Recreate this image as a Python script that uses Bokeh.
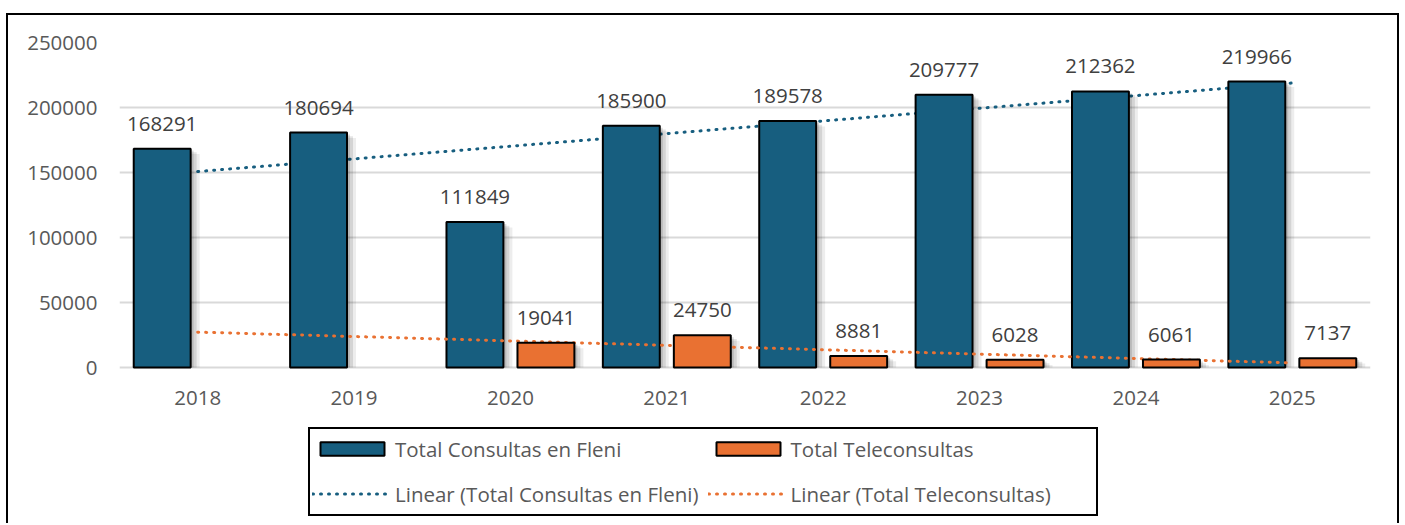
import numpy as np
from bokeh.plotting import figure
from bokeh.models import (ColumnDataSource, FactorRange, Range1d, FixedTicker,
                          BasicTickFormatter, Legend, LegendItem, LabelSet)
from bokeh.transform import dodge
from bokeh.core.properties import value
from bokeh.embed import file_html
from bokeh.resources import INLINE

# ---------------- data ----------------
years = ["2018", "2019", "2020", "2021", "2022", "2023", "2024", "2025"]
consultas_fleni = [168291, 180694, 111849, 185900, 189578, 209777, 212362, 219966]
teleconsultas = [None, None, 19041, 24750, 8881, 6028, 6061, 7137]
y_ticks = [0, 50000, 100000, 150000, 200000, 250000]
series_names = ["Total Consultas en Fleni", "Total Teleconsultas"]
trend_names = ["Linear (Total Consultas en Fleni)", "Linear (Total Teleconsultas)"]

# ---------------- styles ----------------
BLUE = "#175E7F"
ORANGE = "#E97132"
GRID = "#D9D9D9"
AXIS_TXT = "#595959"
LABEL_TXT = "#404040"
FONT = "Open Sans"
FS = "20.5px"
OFF = 0.227      # half distance between bar centres (category units)
BW = 0.364       # bar width (category units)
CAT_PX = 156.4   # pixels per category
Y_MAX = 250000
# pixel geometry: frame top, zero line, frame bottom (legend lives below zero line)
PX_TOP, PX_ZERO, PX_BOTTOM = 42, 367, 525
Y_MIN = -Y_MAX * (PX_BOTTOM - PX_ZERO) / (PX_ZERO - PX_TOP)
UNITS_PER_PX = Y_MAX / (PX_ZERO - PX_TOP)

# ---------------- derived ----------------
xpos = np.arange(1, len(years) + 1)
fleni = np.array(consultas_fleni, dtype=float)
tele = np.array([np.nan if v is None else v for v in teleconsultas], dtype=float)

k1, b1 = np.polyfit(xpos, fleni, 1)
mask = ~np.isnan(tele)
k2, b2 = np.polyfit(xpos[mask], tele[mask], 1)
trend_fleni = k1 * xpos + b1
trend_tele = k2 * xpos + b2

src = ColumnDataSource(dict(
    year=years, fleni=fleni, tele=tele,
    fleni_txt=[str(v) for v in consultas_fleni],
    trend_fleni=trend_fleni, trend_tele=trend_tele,
))
tele_years = [y for y, v in zip(years, teleconsultas) if v is not None]
tele_vals = [v for v in teleconsultas if v is not None]
src_tele = ColumnDataSource(dict(year=tele_years, tele=tele_vals,
                                 txt=[str(v) for v in tele_vals]))

p = figure(
    x_range=FactorRange(*years), y_range=Range1d(Y_MIN, Y_MAX),
    width=1393, height=510, output_backend="svg", toolbar_location=None,
    min_border_left=111, min_border_right=31, min_border_top=27, min_border_bottom=0,
)
p.styles = {"border-top": "2px solid #000", "border-left": "2px solid #000",
            "border-right": "2px solid #000", "margin-left": "6px", "margin-top": "13px"}
p.outline_line_color = None
p.background_fill_color = "white"

# grid / axes
p.xgrid.grid_line_color = None
p.ygrid.grid_line_color = GRID
p.ygrid.grid_line_width = 2
p.yaxis.ticker = FixedTicker(ticks=y_ticks)
p.yaxis.formatter = BasicTickFormatter(use_scientific=False)
p.yaxis.axis_line_color = None
p.yaxis.major_tick_line_color = None
p.yaxis.minor_tick_line_color = None
p.yaxis.major_label_standoff = 16
p.yaxis.major_label_text_font = FONT
p.yaxis.major_label_text_font_size = FS
p.yaxis.major_label_text_color = AXIS_TXT
p.xaxis.visible = False

# category labels under the zero line
year_labels = LabelSet(x="year", y=0, text="year", source=src,
                       text_align="center", text_baseline="alphabetic", y_offset=-37,
                       text_font=value(FONT), text_font_size=value(FS),
                       text_color=AXIS_TXT)
p.add_layout(year_labels)

# trend line (Fleni) behind bars
r_tf = p.line(x="year", y="trend_fleni", source=src, line_color=BLUE,
              line_width=3, line_dash="1 7", line_cap="round")

# soft shadows (to the right / below of each bar)
for d_px, a in ((3, 0.13), (6, 0.10), (9, 0.07)):
    d = d_px / CAT_PX
    shift = (d_px * 0.6) * UNITS_PER_PX
    sh_f = ColumnDataSource(dict(year=years, top=fleni - shift))
    sh_t = ColumnDataSource(dict(year=tele_years, top=np.array(tele_vals, float) - shift))
    p.vbar(x=dodge("year", -OFF + d, range=p.x_range), top="top", width=BW,
           source=sh_f, fill_color="black", fill_alpha=a, line_color=None)
    p.vbar(x=dodge("year", OFF + d, range=p.x_range), top="top", width=BW,
           source=sh_t, fill_color="black", fill_alpha=a, line_color=None)

r_f = p.vbar(x=dodge("year", -OFF, range=p.x_range), top="fleni", width=BW,
             source=src, fill_color=BLUE, line_color="black", line_width=2)
r_tt = p.line(x="year", y="trend_tele", source=src, line_color=ORANGE,
              line_width=3, line_dash="1 7", line_cap="round")
r_t = p.vbar(x=dodge("year", OFF, range=p.x_range), top="tele", width=BW,
             source=src_tele, fill_color=ORANGE, line_color="black", line_width=2)

# data labels
lab_f = LabelSet(x=dodge("year", -OFF, range=p.x_range), y="fleni", text="fleni_txt",
                 source=src, text_align="center", text_baseline="alphabetic",
                 y_offset=18, text_font=value(FONT), text_font_size=value(FS),
                 text_color=LABEL_TXT)
lab_t = LabelSet(x=dodge("year", OFF, range=p.x_range), y="tele", text="txt",
                 source=src_tele, text_align="center", text_baseline="alphabetic",
                 y_offset=18, text_font=value(FONT), text_font_size=value(FS),
                 text_color=LABEL_TXT)
p.add_layout(lab_f)
p.add_layout(lab_t)

legend = Legend(
    items=[LegendItem(label=series_names[0], renderers=[r_f]),
           LegendItem(label=series_names[1], renderers=[r_t]),
           LegendItem(label=trend_names[0], renderers=[r_tf]),
           LegendItem(label=trend_names[1], renderers=[r_tt])],
    orientation="horizontal", ncols=2, nrows=2,
    location=(189, 9.5),
    glyph_width=80, glyph_height=17, label_standoff=3,
    label_text_font=FONT, label_text_font_size=FS, label_text_color=AXIS_TXT,
    label_width=303, label_height=36, spacing=9, padding=2, margin=0,
    border_line_color="black", border_line_width=2, border_line_alpha=1.0,
    background_fill_color="white", background_fill_alpha=1.0,
)
p.add_layout(legend, "center")

open("out.html", "w").write(file_html(p, INLINE))
